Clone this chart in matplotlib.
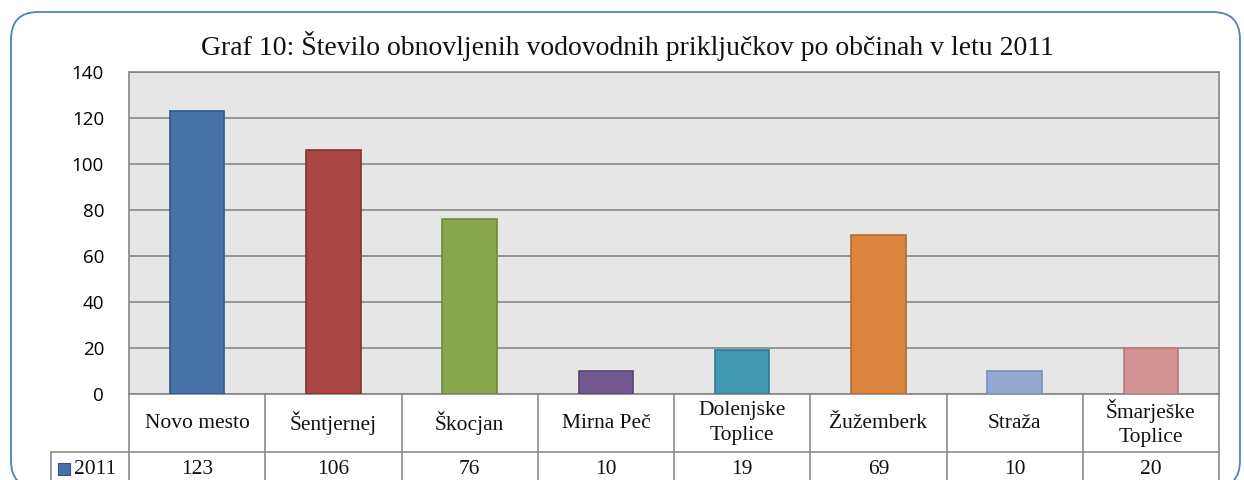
import matplotlib
matplotlib.use("Agg")
import matplotlib.pyplot as plt
from matplotlib.patches import FancyBboxPatch, Rectangle
from matplotlib.lines import Line2D

categories = ["Novo mesto", "Šentjernej", "Škocjan", "Mirna Peč", "Dolenjske\nToplice",
              "Žužemberk", "Straža", "Šmarješke\nToplice"]
values = [123, 106, 76, 10, 19, 69, 10, 20]
series_name = "2011"
title = "Graf 10: Število obnovljenih vodovodnih priključkov po občinah v letu 2011"
yticks = [0, 20, 40, 60, 80, 100, 120, 140]

face_colors = ["#4572A7", "#AA4643", "#89A54E", "#71588F", "#4198AF", "#DB843D", "#93A9CF", "#D19392"]
edge_colors = ["#2F5587", "#8A302D", "#6E8A38", "#5A4373", "#2E7A8E", "#B8692A", "#7A90B8", "#B87A79"]

W, H = 1244, 480
fig = plt.figure(figsize=(W / 100, H / 100), dpi=100)
fig.patch.set_facecolor("white")

# outer rounded border
box = FancyBboxPatch((11 / W, 1 - 488 / H), (1240 - 11) / W, (488 - 12) / H,
                     boxstyle="round,pad=0,rounding_size=0.022",
                     transform=fig.transFigure, facecolor="none",
                     edgecolor="#4F81BD", linewidth=1.3, mutation_aspect=W / H)
fig.patches.append(box)

left, right, top, bottom = 129, 1219, 72, 394
ax = fig.add_axes([left / W, 1 - bottom / H, (right - left) / W, (bottom - top) / H])
ax.set_facecolor("#E6E6E6")
x = list(range(len(categories)))
ax.bar(x, values, width=0.4, color=face_colors, edgecolor=edge_colors, linewidth=1.2, zorder=3)
ax.set_xlim(-0.5, len(categories) - 0.5)
ax.set_ylim(0, 140)
ax.set_yticks(yticks)
ax.set_yticklabels([str(v) for v in yticks], fontsize=13.5, family="Open Sans")
ax.tick_params(axis="y", length=0, pad=18)
ax.set_xticks([])
ax.grid(axis="y", color="#868686", linewidth=1.2, zorder=1)
for s in ax.spines.values():
    s.set_color("#868686")
    s.set_linewidth(1.2)

fig.text(628 / W, 1 - 46 / H, title, ha="center", va="center", fontsize=20,
         family="Liberation Serif", color="#111111")

# data table
ph = bottom - top
r1 = -(452 - bottom) / ph
r2 = -(500 - bottom) / ph
n = len(categories)
pw = right - left
lx = -(left - 51) / pw * n - 0.5
tr = ax.get_xaxis_transform()
lc = "#8C8C8C"
for i in range(n + 1):
    ax.add_line(Line2D([i - 0.5, i - 0.5], [0, r2], transform=tr, color=lc, lw=1.2, clip_on=False))
ax.add_line(Line2D([lx, lx], [r1, r2], transform=tr, color=lc, lw=1.2, clip_on=False))
ax.add_line(Line2D([lx, n - 0.5], [r1, r1], transform=tr, color=lc, lw=1.2, clip_on=False))
for i, (c, v) in enumerate(zip(categories, values)):
    ax.text(i, -(423 - bottom) / ph, c, transform=tr, ha="center", va="center", fontsize=15.5,
            family="Liberation Serif", color="#111111", linespacing=1.4)
    ax.text(i, -(469 - bottom) / ph, str(v), transform=tr, ha="center", va="center", fontsize=15.5,
            family="Liberation Serif", color="#111111")
# legend key
ax.add_patch(Rectangle((-0.5 - (left - 58) / pw * n, -(475 - bottom) / ph),
                       12 / pw * n, 12 / ph, transform=tr,
                       facecolor=face_colors[0], edgecolor=edge_colors[0], lw=0.8, clip_on=False))
ax.text(-0.5 - (left - 74) / pw * n, -(469 - bottom) / ph, series_name,
        transform=tr, ha="left", va="center", fontsize=15.5, family="Liberation Serif", color="#111111")

fig.savefig("out.png", dpi=100)
